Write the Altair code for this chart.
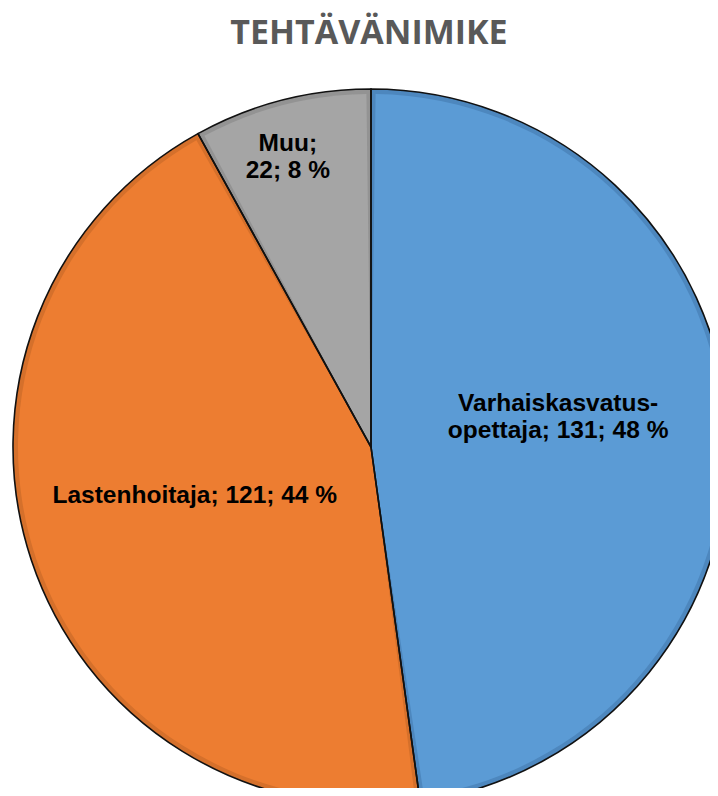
import altair as alt
import pandas as pd

# ---- data ----
title_text = "TEHTÄVÄNIMIKE"
categories = ["Varhaiskasvatusopettaja", "Lastenhoitaja", "Muu"]
values = [131, 121, 22]
label_texts = ["Varhaiskasvatus-\nopettaja; 131; 48 %", "Lastenhoitaja; 121; 44 %", "Muu;\n22; 8 %"]

# ---- style / layout ----
fill_colors = ["#5B9BD5", "#ED7D31", "#A5A5A5"]
edge_colors = ["#4D87BE", "#D5702B", "#939393"]
label_angle_offset_deg = [-9.0, 2.75, -0.9]
label_radius = [192, 183, 314]

W, H = 702, 780
CX, CY = 363, 439
R = 358

df = pd.DataFrame({
    "category": categories,
    "value": values,
    "idx": list(range(len(categories))),
    "label": label_texts,
    "loff": label_angle_offset_deg,
    "lr": label_radius,
})

base = alt.Chart(df).encode(
    theta=alt.Theta("value:Q", stack=True),
    order=alt.Order("idx:Q"),
    x=alt.value(CX),
    y=alt.value(CY),
)

edge = base.mark_arc(radius=R, strokeWidth=0).encode(
    color=alt.Color("category:N", scale=alt.Scale(domain=categories, range=edge_colors), legend=None)
)
inner = base.mark_arc(radius=R - 5, padAngle=0.026, strokeWidth=0).encode(
    color=alt.Color("category:N", scale=alt.Scale(domain=categories, range=fill_colors), legend=None)
)
outline = base.mark_arc(radius=R, fillOpacity=0, stroke="#111111", strokeWidth=1.6).encode(
    detail="category:N"
)

labels = alt.Chart(df).transform_window(
    cum="sum(value)", sort=[alt.SortField("idx")], frame=[None, 0]
).transform_joinaggregate(
    total="sum(value)"
).transform_calculate(
    lt="(datum.cum - datum.value/2)/datum.total*2*PI + datum.loff*PI/180"
).mark_text(
    font="Liberation Sans",
    fontSize=24.5,
    fontWeight="bold",
    color="#000000",
    lineBreak="\n",
    lineHeight=27,
    align="center",
    baseline="middle",
).encode(
    theta=alt.Theta("lt:Q", scale=None),
    radius=alt.Radius("lr:Q", scale=None),
    x=alt.value(CX),
    y=alt.value(CY),
    text="label:N",
)

title = alt.Chart(pd.DataFrame({"t": [title_text]})).mark_text(
    font="Open Sans",
    fontSize=34,
    fontWeight="bold",
    color="#595959",
    align="center",
    baseline="alphabetic",
).encode(
    x=alt.value(361),
    y=alt.value(36),
    text="t:N",
)

chart = alt.layer(edge, inner, outline, labels, title).resolve_scale(
    color="independent"
).properties(
    width=W,
    height=H,
    autosize=alt.AutoSizeParams(type="none"),
    padding=0,
).configure_view(stroke=None)

chart.save("out.html", embed_options={"renderer": "svg", "actions": False})
